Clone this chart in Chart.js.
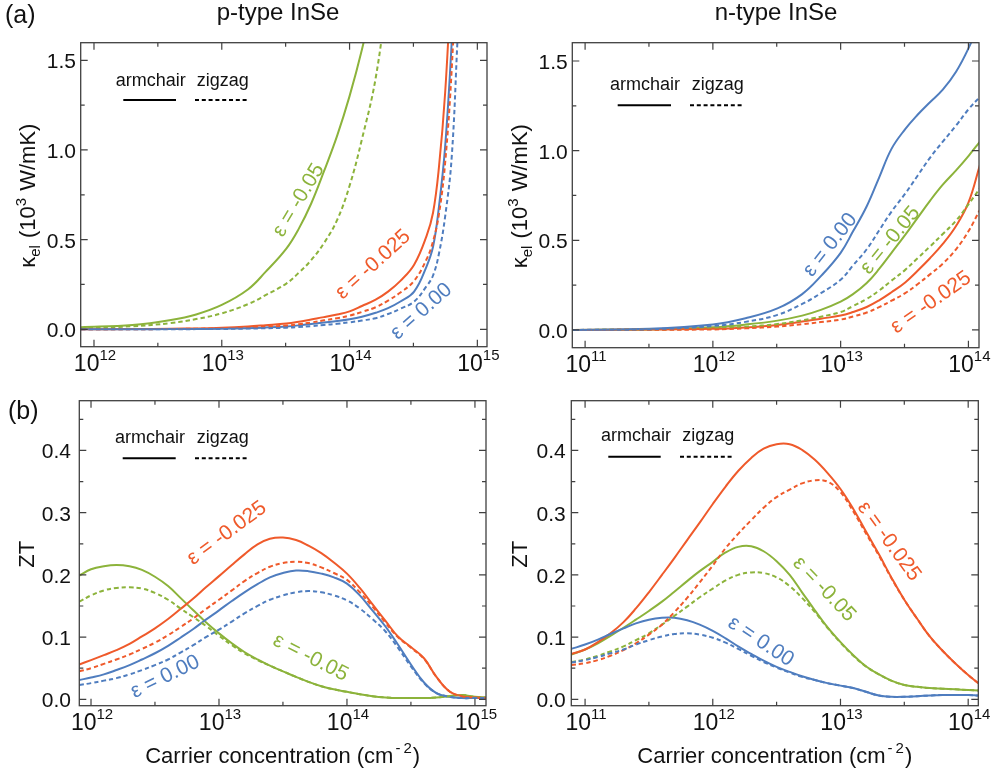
<!DOCTYPE html>
<html>
<head>
<meta charset="utf-8">
<script src="https://cdn.jsdelivr.net/npm/chart.js@4.4.0/dist/chart.umd.min.js"></script>
<style>
  body { margin: 0; background: #fff; overflow: hidden; }
  canvas { position: absolute; left: 0; top: 0; }
</style>
</head>
<body>
<canvas id="pKel" width="995" height="774"></canvas>
<canvas id="nKel" width="995" height="774"></canvas>
<canvas id="pZt" width="995" height="774"></canvas>
<canvas id="nZt" width="995" height="774"></canvas>
<script>
// ---------- data ----------
// p-type, electronic thermal conductivity (10^3 W/mK)
const pKelX = [7.9e11, 2e12, 4e12, 6.3e12, 1e13, 1.6e13, 2.2e13, 3.2e13, 4e13, 5e13, 6.3e13, 8e13,
  1e14, 1.25e14, 1.6e14, 2e14, 2.5e14, 3.2e14, 4e14, 4.5e14, 5e14, 5.6e14, 6.3e14, 7e14];
const pKelArm00 = [0, 0, 0.001, 0.002, 0.003, 0.006, 0.01, 0.016, 0.022, 0.03, 0.038, 0.046,
  0.056, 0.07, 0.092, 0.118, 0.155, 0.21, 0.35, 0.46, 0.68, 1.02, 1.6, 2.3];
const pKelZig00 = [0, 0, 0, 0.001, 0.002, 0.004, 0.006, 0.009, 0.013, 0.018, 0.024, 0.031,
  0.039, 0.049, 0.062, 0.085, 0.115, 0.154, 0.24, 0.3, 0.42, 0.63, 0.96, 1.62];
const pKelArm025 = [0, 0.001, 0.003, 0.005, 0.009, 0.016, 0.023, 0.032, 0.042, 0.055, 0.068, 0.083,
  0.10, 0.13, 0.165, 0.21, 0.27, 0.36, 0.52, 0.65, 0.90, 1.32, 2.0, null];
const pKelZig025 = [0, 0, 0.002, 0.003, 0.006, 0.01, 0.015, 0.021, 0.028, 0.038, 0.05, 0.062,
  0.076, 0.097, 0.123, 0.16, 0.205, 0.27, 0.39, 0.49, 0.64, 0.93, 1.45, 2.2];
const pKelArm05 = [0.012, 0.024, 0.052, 0.083, 0.136, 0.222, 0.32, 0.45, 0.56, 0.70, 0.88, 1.08,
  1.30, 1.56, 1.9, null, null, null, null, null, null, null, null, null];
const pKelZig05 = [0.007, 0.017, 0.035, 0.057, 0.089, 0.14, 0.19, 0.255, 0.315, 0.385, 0.48, 0.61,
  0.80, 1.06, 1.40, 1.9, null, null, null, null, null, null, null, null];

// n-type, electronic thermal conductivity
const nKelX = [7.9e10, 3.2e11, 1e12, 1.8e12, 3.2e12, 5e12, 7e12, 1e13, 1.25e13, 1.6e13, 2e13, 2.5e13,
  3.2e13, 4e13, 5e13, 6.3e13, 8e13, 1e14, 1.23e14];
const nKelArm00 = [0, 0.006, 0.03, 0.065, 0.12, 0.20, 0.30, 0.43, 0.55, 0.69, 0.85, 1.01, 1.12, 1.2, 1.27, 1.34, 1.44, 1.57, 1.72];
const nKelZig00 = [0, 0.004, 0.022, 0.045, 0.084, 0.145, 0.205, 0.28, 0.36, 0.45, 0.555, 0.66, 0.76, 0.86, 0.96, 1.05, 1.14, 1.23, 1.30];
const nKelArm025 = [0, 0.002, 0.006, 0.014, 0.028, 0.047, 0.063, 0.08, 0.10, 0.128, 0.165, 0.21, 0.265, 0.33, 0.40, 0.48, 0.58, 0.71, 0.92];
const nKelZig025 = [0, 0.001, 0.003, 0.009, 0.019, 0.032, 0.044, 0.058, 0.075, 0.097, 0.127, 0.163, 0.205, 0.255, 0.31, 0.37, 0.45, 0.55, 0.67];
const nKelArm05 = [0, 0.003, 0.015, 0.03, 0.052, 0.08, 0.112, 0.158, 0.2, 0.262, 0.34, 0.43, 0.53, 0.625, 0.72, 0.81, 0.89, 0.97, 1.05];
const nKelZig05 = [0, 0.002, 0.009, 0.018, 0.033, 0.054, 0.074, 0.10, 0.133, 0.173, 0.22, 0.275, 0.335, 0.40, 0.465, 0.535, 0.61, 0.70, 0.79];

// p-type, ZT
const pZtX = [8.1e11, 1e12, 1.26e12, 1.58e12, 2e12, 2.5e12, 3.16e12, 4e12, 5e12, 6.3e12, 7.9e12,
  1e13, 1.26e13, 1.58e13, 2e13, 2.5e13, 3.16e13, 4e13, 5e13, 6.3e13, 7.9e13,
  1e14, 1.26e14, 1.58e14, 2e14, 2.5e14, 3.16e14, 4e14, 5e14, 6.3e14, 7.9e14, 1e15, 1.23e15];
const pZtArm00 = [0.031, 0.035, 0.04, 0.047, 0.055, 0.064, 0.074, 0.086, 0.099, 0.113, 0.128,
  0.143, 0.158, 0.172, 0.185, 0.196, 0.203, 0.207, 0.206, 0.202, 0.196,
  0.186, 0.167, 0.143, 0.117, 0.088, 0.056, 0.027, 0.01, 0.004, 0.002, 0.002, 0.002];
const pZtZig00 = [0.023, 0.026, 0.03, 0.034, 0.04, 0.047, 0.055, 0.064, 0.075, 0.087, 0.1,
  0.112, 0.125, 0.138, 0.15, 0.16, 0.167, 0.172, 0.174, 0.172, 0.167,
  0.159, 0.146, 0.129, 0.109, 0.083, 0.053, 0.026, 0.01, 0.004, 0.002, 0.002, 0.002];
const pZtArm025 = [0.056, 0.063, 0.071, 0.079, 0.089, 0.101, 0.114, 0.129, 0.145, 0.162, 0.18,
  0.198, 0.216, 0.233, 0.249, 0.258, 0.26, 0.256, 0.247, 0.235, 0.22,
  0.202, 0.179, 0.153, 0.126, 0.101, 0.084, 0.066, 0.036, 0.013, 0.005, 0.003, 0.002];
const pZtZig025 = [0.045, 0.05, 0.057, 0.064, 0.072, 0.081, 0.091, 0.103, 0.116, 0.13, 0.145,
  0.16, 0.175, 0.19, 0.203, 0.213, 0.219, 0.221, 0.219, 0.212, 0.203,
  0.192, 0.172, 0.149, 0.123, 0.1, 0.083, 0.065, 0.036, 0.013, 0.005, 0.003, 0.002];
const pZtArm05 = [0.199, 0.209, 0.214, 0.216, 0.214, 0.208, 0.197, 0.182, 0.163, 0.143, 0.124,
  0.106, 0.09, 0.076, 0.064, 0.054, 0.045, 0.036, 0.028, 0.021, 0.016,
  0.012, 0.008, 0.005, 0.003, 0.002, 0.002, 0.002, 0.003, 0.005, 0.007, 0.004, 0.003];
const pZtZig05 = [0.157, 0.167, 0.175, 0.179, 0.18, 0.178, 0.171, 0.16, 0.146, 0.132, 0.118,
  0.102, 0.087, 0.074, 0.063, 0.054, 0.045, 0.036, 0.028, 0.021, 0.016,
  0.012, 0.008, 0.005, 0.003, 0.002, 0.002, 0.002, 0.003, 0.005, 0.007, 0.004, 0.003];

// n-type, ZT
const nZtX = [7.8e10, 1e11, 1.26e11, 1.58e11, 2e11, 2.5e11, 3.16e11, 4e11, 5e11, 6.3e11, 7.9e11,
  1e12, 1.26e12, 1.58e12, 2e12, 2.5e12, 3.16e12, 4e12, 5e12, 6.3e12, 7.9e12,
  1e13, 1.26e13, 1.58e13, 2e13, 2.5e13, 3.16e13, 4e13, 5e13, 6.3e13, 7.9e13, 1e14, 1.2e14];
const nZtArm00 = [0.081, 0.088, 0.096, 0.105, 0.114, 0.122, 0.128, 0.131, 0.131, 0.127, 0.12,
  0.11, 0.098, 0.085, 0.073, 0.062, 0.052, 0.044, 0.037, 0.031, 0.026,
  0.022, 0.018, 0.012, 0.006, 0.004, 0.004, 0.005, 0.006, 0.007, 0.007, 0.007, 0.006];
const nZtZig00 = [0.059, 0.063, 0.068, 0.074, 0.08, 0.088, 0.095, 0.101, 0.105, 0.106, 0.104,
  0.099, 0.091, 0.081, 0.07, 0.06, 0.051, 0.043, 0.036, 0.031, 0.026,
  0.022, 0.018, 0.012, 0.006, 0.004, 0.004, 0.005, 0.006, 0.007, 0.007, 0.007, 0.006];
const nZtArm025 = [0.073, 0.08, 0.092, 0.106, 0.124, 0.146, 0.172, 0.2, 0.227, 0.256, 0.284,
  0.314, 0.342, 0.367, 0.388, 0.403, 0.41, 0.41, 0.401, 0.385, 0.364,
  0.338, 0.306, 0.27, 0.233, 0.196, 0.16, 0.129, 0.101, 0.078, 0.058, 0.039, 0.026];
const nZtZig025 = [0.055, 0.058, 0.063, 0.07, 0.079, 0.09, 0.104, 0.12, 0.14, 0.163, 0.188,
  0.215, 0.243, 0.266, 0.288, 0.308, 0.325, 0.337, 0.347, 0.352, 0.35,
  0.333, 0.302, 0.267, 0.231, 0.195, 0.16, 0.129, 0.101, 0.078, 0.058, 0.039, 0.026];
const nZtArm05 = [0.072, 0.08, 0.09, 0.102, 0.115, 0.128, 0.142, 0.157, 0.173, 0.19, 0.206,
  0.221, 0.236, 0.245, 0.246, 0.238, 0.222, 0.2, 0.172, 0.143, 0.116,
  0.092, 0.071, 0.053, 0.04, 0.03, 0.023, 0.02, 0.018, 0.017, 0.016, 0.015, 0.014];
const nZtZig05 = [0.06, 0.064, 0.07, 0.077, 0.085, 0.095, 0.106, 0.12, 0.134, 0.149, 0.164,
  0.178, 0.191, 0.2, 0.204, 0.203, 0.196, 0.182, 0.163, 0.14, 0.115,
  0.091, 0.07, 0.053, 0.04, 0.03, 0.023, 0.02, 0.018, 0.017, 0.016, 0.015, 0.014];

// ticks
const pXMajor = [1e12, 1e13, 1e14, 1e15];
const pXMinor = [3.16e12, 3.16e13, 3.16e14];
const pXExp = ['12', '13', '14', '15'];
const nXMajor = [1e11, 1e12, 1e13, 1e14];
const nXMinor = [3.16e11, 3.16e12, 3.16e13];
const nXExp = ['11', '12', '13', '14'];
const kelYMajor = [0, 0.5, 1.0, 1.5];
const kelYMinor = [0.25, 0.75, 1.25];
const kelYLabels = ['0.0', '0.5', '1.0', '1.5'];
const ztYMajor = [0, 0.1, 0.2, 0.3, 0.4];
const ztYMinor = [0.05, 0.15, 0.25, 0.35, 0.45];
const ztYLabels = ['0.0', '0.1', '0.2', '0.3', '0.4'];

// ---------- styling ----------
const FONT = '"Liberation Sans", Arial, Helvetica, sans-serif';
const BLUE = '#4f7dbf', ORANGE = '#ef5a2b', GREEN = '#8cb33b';
const INK = '#111', AXIS = '#404040';
const W = 995, H = 774;

function curves(a00, z00, a025, z025, a05, z05) {
  return [
    { ys: z00, color: BLUE, dash: true }, { ys: z025, color: ORANGE, dash: true }, { ys: z05, color: GREEN, dash: true },
    { ys: a00, color: BLUE }, { ys: a025, color: ORANGE }, { ys: a05, color: GREEN }
  ];
}

const kelTitle = [['κ', 22, 0], ['el', 15, 5, 1], [' (10', 22, 0], ['3', 15, -9, 1], [' W/mK)', 22, 0]];
const ztTitle = [['ZT', 22, 0]];
const xTitle = [['Carrier concentration (cm', 22, 0, 2], ['-', 15, -10, 3], ['2', 15, -10, 1], [')', 22, 0]];

const panels = [
  { id: 'pKel', area: [80.7, 42.7, 487, 346.7], xMin: 7.87e11, xMax: 1.19e15, yMin: -0.097, yMax: 1.598,
    xs: pKelX, curves: curves(pKelArm00, pKelZig00, pKelArm025, pKelZig025, pKelArm05, pKelZig05),
    xMajor: pXMajor, xMinor: pXMinor, xExp: pXExp, yMajor: kelYMajor, yMinor: kelYMinor, yLabels: kelYLabels,
    yLabelRight: 76, yTitle: kelTitle, yTitleX: 34.5,
    title: 'p-type InSe', titleX: 278, tag: '(a)', tagY: 23,
    legend: { textY: 86, armX: 115.7, zigX: 196.7, lineY: 100, solid: [123.3, 176], dash: [195, 249.3] },
    notes: [
      { t: 'ε = -0.05', c: GREEN, x: 4.0e13, y: 0.72, a: -59 },
      { t: 'ε = -0.025', c: ORANGE, x: 1.53e14, y: 0.36, a: -42 },
      { t: 'ε = 0.00', c: BLUE, x: 3.65e14, y: 0.1, a: -41.5 }
    ] },
  { id: 'nKel', area: [572.3, 42.7, 979, 347.7], xMin: 7.94e10, xMax: 1.21e14, yMin: -0.099, yMax: 1.602,
    xs: nKelX, curves: curves(nKelArm00, nKelZig00, nKelArm025, nKelZig025, nKelArm05, nKelZig05),
    xMajor: nXMajor, xMinor: nXMinor, xExp: nXExp, yMajor: kelYMajor, yMinor: kelYMinor, yLabels: kelYLabels,
    yLabelRight: 567.7, yTitle: kelTitle, yTitleX: 526.5,
    title: 'n-type InSe', titleX: 776,
    legend: { textY: 90, armX: 610, zigX: 691.7, lineY: 105.3, solid: [617.7, 671], dash: [690, 743.3] },
    notes: [
      { t: 'ε = 0.00', c: BLUE, x: 8.3e12, y: 0.474, a: -52 },
      { t: 'ε = -0.05', c: GREEN, x: 2.45e13, y: 0.5, a: -50.5 },
      { t: 'ε = -0.025', c: ORANGE, x: 5.1e13, y: 0.153, a: -35 }
    ] },
  { id: 'pZt', area: [79.3, 400.7, 486, 705.7], xMin: 8.1e11, xMax: 1.22e15, yMin: -0.0103, yMax: 0.48,
    xs: pZtX, curves: curves(pZtArm00, pZtZig00, pZtArm025, pZtZig025, pZtArm05, pZtZig05),
    xMajor: pXMajor, xMinor: pXMinor, xExp: pXExp, yMajor: ztYMajor, yMinor: ztYMinor, yLabels: ztYLabels,
    yLabelRight: 71, yTitle: ztTitle, yTitleX: 33.5, xTitle: xTitle,
    tag: '(b)', tagY: 419,
    legend: { textY: 443.3, armX: 115, zigX: 196.7, lineY: 458.3, solid: [122.7, 175.7], dash: [195, 248.3] },
    notes: [
      { t: 'ε = -0.025', c: ORANGE, x: 1.15e13, y: 0.267, a: -36.5 },
      { t: 'ε = 0.00', c: BLUE, x: 3.8e12, y: 0.036, a: -26 },
      { t: 'ε = -0.05', c: GREEN, x: 5.2e13, y: 0.067, a: 27 }
    ] },
  { id: 'nZt', area: [571.3, 400.7, 978.3, 705.7], xMin: 7.8e10, xMax: 1.2e14, yMin: -0.0103, yMax: 0.48,
    xs: nZtX, curves: curves(nZtArm00, nZtZig00, nZtArm025, nZtZig025, nZtArm05, nZtZig05),
    xMajor: nXMajor, xMinor: nXMinor, xExp: nXExp, yMajor: ztYMajor, yMinor: ztYMinor, yLabels: ztYLabels,
    yLabelRight: 565.7, yTitle: ztTitle, yTitleX: 526.5, xTitle: xTitle,
    legend: { textY: 441, armX: 601, zigX: 682.3, lineY: 456.7, solid: [608.3, 660.7], dash: [680, 734] },
    notes: [
      { t: 'ε = -0.025', c: ORANGE, x: 2.4e13, y: 0.254, a: 54 },
      { t: 'ε = -0.05', c: GREEN, x: 7.45e12, y: 0.177, a: 46.6 },
      { t: 'ε = 0.00', c: BLUE, x: 2.38e12, y: 0.093, a: 33.7 }
    ] }
];

// draw text made of pieces [text, size, dy, gapAfter], starting at x0 on the baseline
function piecesWidth(ctx, pieces) {
  let w = 0;
  pieces.forEach(p => { ctx.font = p[1] + 'px ' + FONT; w += ctx.measureText(p[0]).width + (p[3] || 0); });
  return w;
}
function drawPieces(ctx, pieces, x0) {
  let x = x0;
  pieces.forEach(p => {
    ctx.font = p[1] + 'px ' + FONT;
    ctx.fillText(p[0], x, p[2]);
    x += ctx.measureText(p[0]).width + (p[3] || 0);
  });
}

function decor(p) {
  return {
    id: 'decor',
    afterDraw(chart) {
      const ctx = chart.ctx, a = chart.chartArea, sx = chart.scales.x, sy = chart.scales.y;
      ctx.save();

      // frame and inward ticks on all four sides
      ctx.strokeStyle = AXIS;
      ctx.lineWidth = 1.3;
      ctx.strokeRect(a.left, a.top, a.right - a.left, a.bottom - a.top);
      ctx.lineWidth = 1.2;
      ctx.beginPath();
      const xt = (v, len) => {
        const x = sx.getPixelForValue(v);
        ctx.moveTo(x, a.bottom); ctx.lineTo(x, a.bottom - len);
        ctx.moveTo(x, a.top); ctx.lineTo(x, a.top + len);
      };
      const yt = (v, len) => {
        const y = sy.getPixelForValue(v);
        ctx.moveTo(a.left, y); ctx.lineTo(a.left + len, y);
        ctx.moveTo(a.right, y); ctx.lineTo(a.right - len, y);
      };
      p.xMajor.forEach(v => xt(v, 7));
      p.xMinor.forEach(v => xt(v, 4));
      p.yMajor.forEach(v => yt(v, 7));
      p.yMinor.forEach(v => yt(v, 4));
      ctx.stroke();

      ctx.fillStyle = INK;
      ctx.textBaseline = 'alphabetic';

      // y tick labels
      ctx.font = '21px ' + FONT;
      ctx.textAlign = 'right';
      p.yMajor.forEach((v, i) => ctx.fillText(p.yLabels[i], p.yLabelRight, sy.getPixelForValue(v) + 8));

      // x tick labels 10^n
      ctx.textAlign = 'left';
      const base = a.bottom + 24.6;
      p.xMajor.forEach((v, i) => {
        const cx = sx.getPixelForValue(v);
        ctx.font = '23px ' + FONT; const w1 = ctx.measureText('10').width;
        ctx.font = '15px ' + FONT; const w2 = ctx.measureText(p.xExp[i]).width;
        const left = cx - (w1 + w2) / 2 + 1;
        ctx.font = '23px ' + FONT; ctx.fillText('10', left, base);
        ctx.font = '15px ' + FONT; ctx.fillText(p.xExp[i], left + w1, base - 11);
      });

      // y axis title, rotated
      ctx.save();
      ctx.translate(p.yTitleX, (a.top + a.bottom) / 2 + 1);
      ctx.rotate(-Math.PI / 2);
      drawPieces(ctx, p.yTitle, -piecesWidth(ctx, p.yTitle) / 2);
      ctx.restore();

      // x axis title
      if (p.xTitle) {
        ctx.save();
        ctx.translate((a.left + a.right) / 2, 763);
        drawPieces(ctx, p.xTitle, -piecesWidth(ctx, p.xTitle) / 2);
        ctx.restore();
      }

      // column title and panel tag
      if (p.title) {
        ctx.font = '24px ' + FONT;
        ctx.textAlign = 'center';
        ctx.fillText(p.title, p.titleX, 20);
      }
      if (p.tag) {
        ctx.font = '25px ' + FONT;
        ctx.textAlign = 'left';
        ctx.fillText(p.tag, p.tag === '(a)' ? 5 : 8, p.tagY);
      }

      // line-style key
      const L = p.legend;
      ctx.font = '18px ' + FONT;
      ctx.textAlign = 'left';
      ctx.fillText('armchair', L.armX, L.textY);
      ctx.fillText('zigzag', L.zigX, L.textY);
      ctx.strokeStyle = '#000';
      ctx.lineWidth = 2;
      ctx.beginPath(); ctx.moveTo(L.solid[0], L.lineY); ctx.lineTo(L.solid[1], L.lineY); ctx.stroke();
      ctx.setLineDash([4, 2.8]);
      ctx.beginPath(); ctx.moveTo(L.dash[0], L.lineY); ctx.lineTo(L.dash[1], L.lineY); ctx.stroke();
      ctx.setLineDash([]);

      // strain labels along the curves
      ctx.font = '21px ' + FONT;
      ctx.textAlign = 'center';
      ctx.textBaseline = 'middle';
      p.notes.forEach(n => {
        ctx.save();
        ctx.translate(sx.getPixelForValue(n.x), sy.getPixelForValue(n.y));
        ctx.rotate(n.a * Math.PI / 180);
        ctx.fillStyle = n.c;
        ctx.fillText(n.t, 0, 0);
        ctx.restore();
      });

      ctx.restore();
    }
  };
}

function makeChart(p) {
  const datasets = p.curves.map(c => ({
    data: c.ys.map((y, i) => ({ x: p.xs[i], y: y })),
    borderColor: c.color,
    borderWidth: 2,
    borderDash: c.dash ? [4.5, 3] : [],
    pointRadius: 0,
    fill: false,
    tension: 0.4,
    clip: 0
  }));
  new Chart(document.getElementById(p.id), {
    type: 'line',
    data: { datasets: datasets },
    options: {
      responsive: false,
      animation: false,
      devicePixelRatio: 1,
      events: [],
      layout: { padding: { left: p.area[0], top: p.area[1], right: W - p.area[2], bottom: H - p.area[3] } },
      plugins: { legend: { display: false }, tooltip: { enabled: false } },
      scales: {
        x: { type: 'logarithmic', min: p.xMin, max: p.xMax, display: false },
        y: { type: 'linear', min: p.yMin, max: p.yMax, display: false }
      }
    },
    plugins: [decor(p)]
  });
}

panels.forEach(makeChart);
</script>
</body>
</html>
